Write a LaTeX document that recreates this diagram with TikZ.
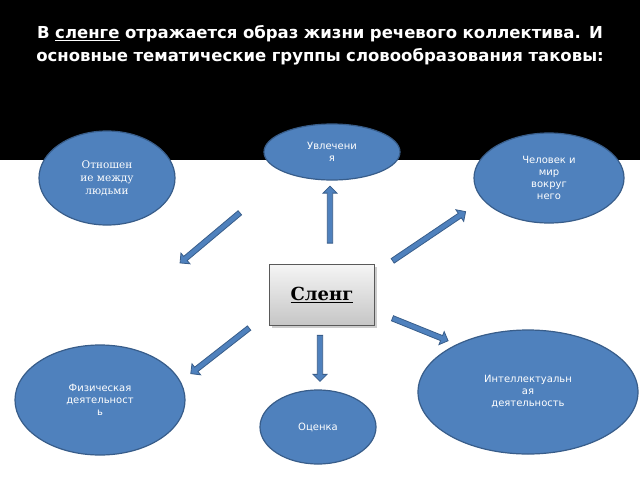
\documentclass[tikz,border=0pt]{standalone}
\usepackage{fontspec}
\setmainfont{DejaVu Sans}
\newfontfamily\serifx{DejaVu Serif}
\usetikzlibrary{shapes.arrows,shadows}
\definecolor{blu}{HTML}{4F81BD}
\definecolor{bord}{HTML}{385D8A}
\tikzset{
  ell/.style={ellipse, draw=bord, line width=1.2pt, fill=blu, text=white, align=center, font=\fontsize{10}{12}\selectfont, inner sep=0pt},
  arr/.style={single arrow, draw=bord, fill=blu, line width=0.8pt, minimum width=14pt, single arrow head extend=3pt, inner sep=1.5pt},
}
\usetikzlibrary{shapes.geometric}
\begin{document}
\begin{tikzpicture}[x=1pt,y=-1pt]
\useasboundingbox (0,0) rectangle (640,480);
\fill[white] (0,0) rectangle (640,480);
\fill[black] (0,0) rectangle (640,160);
\node[text=white, font=\bfseries\fontsize{16.5}{23}\selectfont, align=center, text width=630pt] (title) at (320,45)
 {В \underline{сленге} отражается образ жизни речевого коллектива. И основные тематические группы словообразования таковы:};

\node[ell, minimum width=136pt, minimum height=94pt, font=\serifx\fontsize{10.5}{13}\selectfont] (a) at (107,178) {Отношен\\ие между\\людьми};
\node[ell, minimum width=136pt, minimum height=56pt] (b) at (332,152) {Увлечени\\я};
\node[ell, minimum width=150pt, minimum height=90pt] (c) at (549,178) {Человек и\\мир\\вокруг\\него};
\node[ell, minimum width=220pt, minimum height=124pt] (d) at (528,392) {Интеллектуальн\\ая\\деятельность};
\node[ell, minimum width=170pt, minimum height=110pt] (e) at (100,400) {Физическая\\деятельност\\ь};
\node[ell, minimum width=116pt, minimum height=74pt] (f) at (318,427) {Оценка};

\node[draw=gray!70!black, line width=1pt, top color=gray!8, bottom color=gray!45, minimum width=105pt, minimum height=61pt, drop shadow={opacity=0.4}, font=\serifx\bfseries\fontsize{18}{20}\selectfont] (s) at (322,295) {\underline{Сленг}};

\node[arr, minimum height=78pt, rotate=220] at (211,237) {};
\node[arr, minimum height=57pt, rotate=90] at (330,216) {};
\node[arr, minimum height=88pt, rotate=34] at (428,237) {};
\node[arr, minimum height=60pt, rotate=-22] at (419,329) {};
\node[arr, minimum height=46pt, rotate=-90] at (320,357) {};
\node[arr, minimum height=74pt, rotate=218] at (221,350) {};
\end{tikzpicture}
\end{document}
